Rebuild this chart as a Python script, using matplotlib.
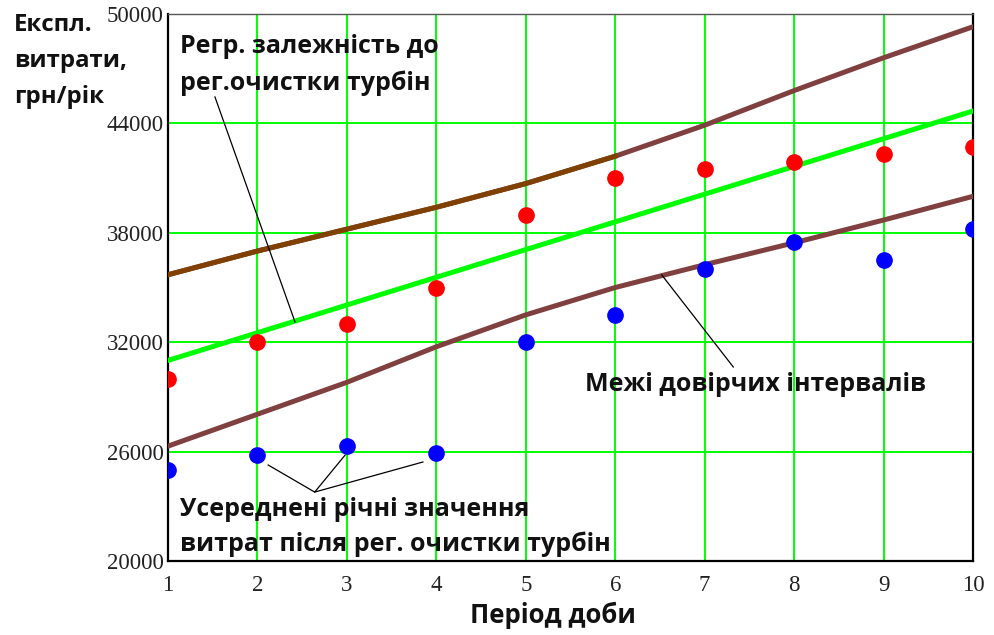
import numpy as np
import matplotlib
matplotlib.use("Agg")
import matplotlib.pyplot as plt

# period index
periods = [1, 2, 3, 4, 5, 6, 7, 8, 9, 10]

# averaged yearly costs before / after regular turbine cleaning
before_clean = [30000, 32000, 33000, 35000, 39000, 41000, 41500, 41900, 42300, 42700]
after_clean = [25000, 25800, 26300, 25900, 32000, 33500, 36000, 37500, 36500, 38200]

# regression line and confidence limits
regression = [31000, 32520, 34040, 35560, 37080, 38600, 40120, 41640, 43160, 44680]
upper_limit = [35700, 37000, 38200, 39400, 40700, 42200, 43900, 45800, 47600, 49300]
lower_limit = [26300, 28050, 29800, 31750, 33500, 35000, 36250, 37450, 38700, 40000]

yticks = [20000, 26000, 32000, 38000, 44000, 50000]

W, H = 995, 635
fig = plt.figure(figsize=(W / 100, H / 100), dpi=100)
ax = fig.add_axes([168 / W, 1 - 561 / H, (973 - 168) / W, (561 - 14) / H])


def px(x, y):
    return x / W, 1 - y / H


bold = dict(family=["Open Sans", "DejaVu Sans"], fontweight="bold", color="#111111")

ax.grid(True, color="#00ff00", lw=1.4)
ax.set_axisbelow(True)

ax.plot(periods, lower_limit, color="#804040", lw=3.6, zorder=3)
ax.plot(periods, upper_limit, color="#804040", lw=3.6, zorder=3)
ax.plot(periods[:6], upper_limit[:6], color="#804000", lw=3.6, zorder=4)
ax.plot(periods, regression, color="#00ff00", lw=3.6, zorder=4)

ax.plot(periods, before_clean, "o", color="#ff0000", ms=11, zorder=5)
ax.plot(periods, after_clean, "o", color="#0000ff", ms=11, zorder=5)

ax.set_xlim(1, 10)
ax.set_ylim(20000, 50000)
ax.set_xticks(periods)
ax.set_yticks(yticks)
ax.tick_params(length=0, labelsize=16.5, pad=3)
ax.tick_params(axis="x", pad=10)
for lab in ax.get_xticklabels() + ax.get_yticklabels():
    lab.set_family("Liberation Serif")
    lab.set_color("#222222")
for s in ax.spines.values():
    s.set_color("black")
    s.set_linewidth(1.6)
ax.spines["top"].set_color("#555555")
ax.spines["top"].set_linewidth(1.0)

# leader lines for the callouts
ax.plot([1.525, 2.42], [45450, 33110], color="black", lw=0.9, zorder=6)
ax.plot([6.52, 7.32], [35690, 30640], color="black", lw=0.9, zorder=6)
ax.plot([2.12, 2.64, 2.98], [25265, 23780, 25810], color="black", lw=0.9, zorder=6)
ax.plot([2.64, 3.85], [23780, 25430], color="black", lw=0.9, zorder=6)

# callout texts
fig.text(*px(180, 53), "Регр. залежність до", va="baseline", fontsize=18, **bold)
fig.text(*px(180, 90), "рег.очистки турбін", va="baseline", fontsize=18, **bold)
fig.text(*px(585, 391), "Межі довірчих інтервалів", va="baseline", fontsize=18, **bold)
fig.text(*px(180, 516), "Усереднені річні значення", va="baseline", fontsize=18, **bold)
fig.text(*px(180, 551), "витрат після рег. очистки турбін", va="baseline", fontsize=18, **bold)

# axis titles
fig.text(*px(14, 31), "Експл.", va="baseline", fontsize=17.3, **bold)
fig.text(*px(14, 67), "витрати,", va="baseline", fontsize=17.3, **bold)
fig.text(*px(14, 103), "грн/рік", va="baseline", fontsize=17.3, **bold)
fig.text(*px(553, 623), "Період доби", va="baseline", ha="center", fontsize=18.5, **bold)

fig.savefig("out.png", dpi=100)
